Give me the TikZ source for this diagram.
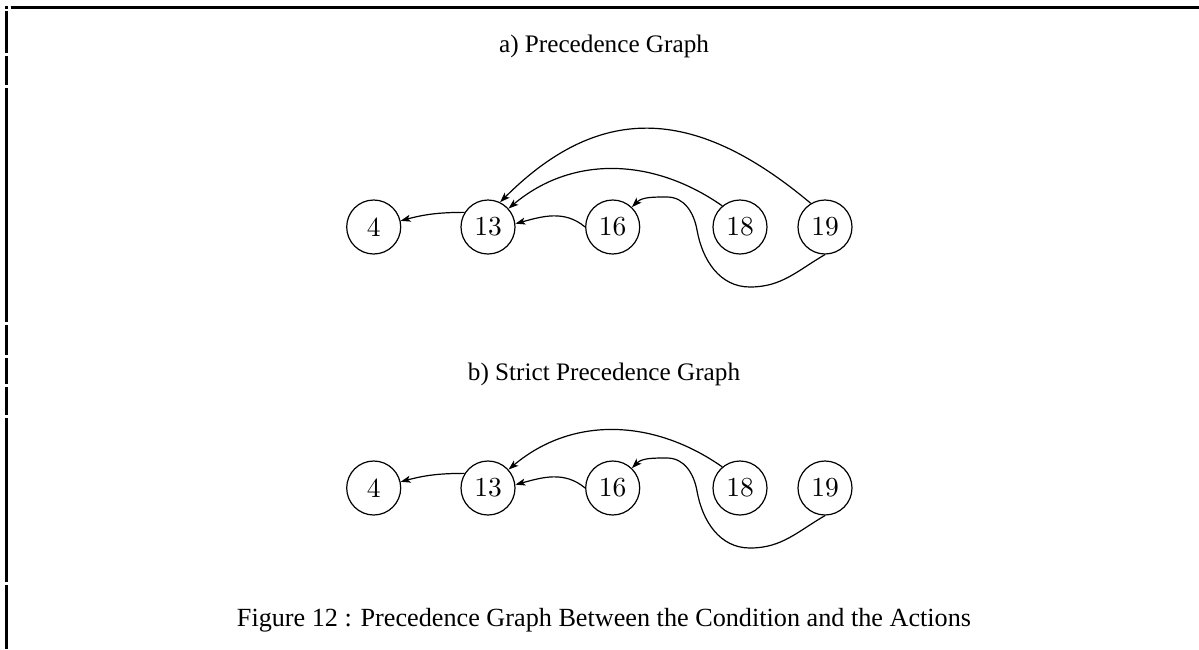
\documentclass[tikz,border=0pt]{standalone}
\usepackage{fontspec}
\usepackage{graphicx}
\newfontfamily\timesfont{Liberation Serif}
\usetikzlibrary{arrows.meta}
\newcommand{\vlab}[1]{\scalebox{2.75}{\fontsize{10}{12}\selectfont #1}}
\begin{document}
\begin{tikzpicture}[x=1pt,y=1pt,
  vtx/.style={circle,draw,line width=1.2pt,minimum size=54pt,inner sep=0pt},
  edge/.style={line width=1.2pt,-{Stealth[length=10pt,width=7pt,inset=2.5pt]}},
  ttl/.style={anchor=base,inner sep=0pt,font=\timesfont\fontsize{25.2}{28}\selectfont},
  framel/.style={line width=3pt}]
\useasboundingbox (0,0) rectangle (1199,-649);
% frame
\fill (5,-6) rectangle (8,-9);
\draw[framel] (10.5,-7.6) -- (1199,-7.6);
\foreach \a/\b in {11/53,56/85,88/322,325/355,358/384,387/415,418/582,585/649}
  \draw[framel] (6.5,-\a) -- (6.5,-\b);
% titles
\node[ttl] (ta) at (604,-52) {a) Precedence Graph};
\node[ttl] (tb) at (604,-380) {b) Strict Precedence Graph};
\node[ttl,font=\timesfont\fontsize{26.2}{28}\selectfont] (tc) at (604,-626)
  {Figure 12 : Precedence Graph Between the Condition and the Actions};
% graph a
\node[vtx] (a4)  at (373.7,-227) {\vlab{4}};
\node[vtx] (a13) at (488,-227) {\vlab{13}};
\node[vtx] (a16) at (612.7,-227) {\vlab{16}};
\node[vtx] (a18) at (740,-227) {\vlab{18}};
\node[vtx] (a19) at (825,-227) {\vlab{19}};
\draw[edge] (a13.148) to[out=180,in=15] (a4.13);
\draw[edge] (a16.west) to[out=140,in=15] (a13.7);
\draw[edge] (a18.130) to[out=145,in=40] (a13.42);
\draw[edge] (a19.121) to[out=140,in=45,looseness=1.2] (a13.64);
\coordinate (pa1) at (750,-287);
\coordinate (pa2) at (697,-230);
\coordinate (pa3) at (667,-197);
\draw[edge] (a19.south) to[out=210,in=0] (pa1) to[out=180,in=-80] (pa2)
  to[out=100,in=0] (pa3) to[out=180,in=45] (a16.46);
% graph b
\begin{scope}[yshift=-261pt]
\node[vtx] (b4)  at (373.7,-227) {\vlab{4}};
\node[vtx] (b13) at (488,-227) {\vlab{13}};
\node[vtx] (b16) at (612.7,-227) {\vlab{16}};
\node[vtx] (b18) at (740,-227) {\vlab{18}};
\node[vtx] (b19) at (825,-227) {\vlab{19}};
\draw[edge] (b13.148) to[out=180,in=15] (b4.13);
\draw[edge] (b16.west) to[out=140,in=15] (b13.7);
\draw[edge] (b18.130) to[out=145,in=40] (b13.42);
\coordinate (pb1) at (750,-287);
\coordinate (pb2) at (697,-230);
\coordinate (pb3) at (667,-197);
\draw[edge] (b19.south) to[out=210,in=0] (pb1) to[out=180,in=-80] (pb2)
  to[out=100,in=0] (pb3) to[out=180,in=45] (b16.46);
\end{scope}
\end{tikzpicture}
\end{document}
